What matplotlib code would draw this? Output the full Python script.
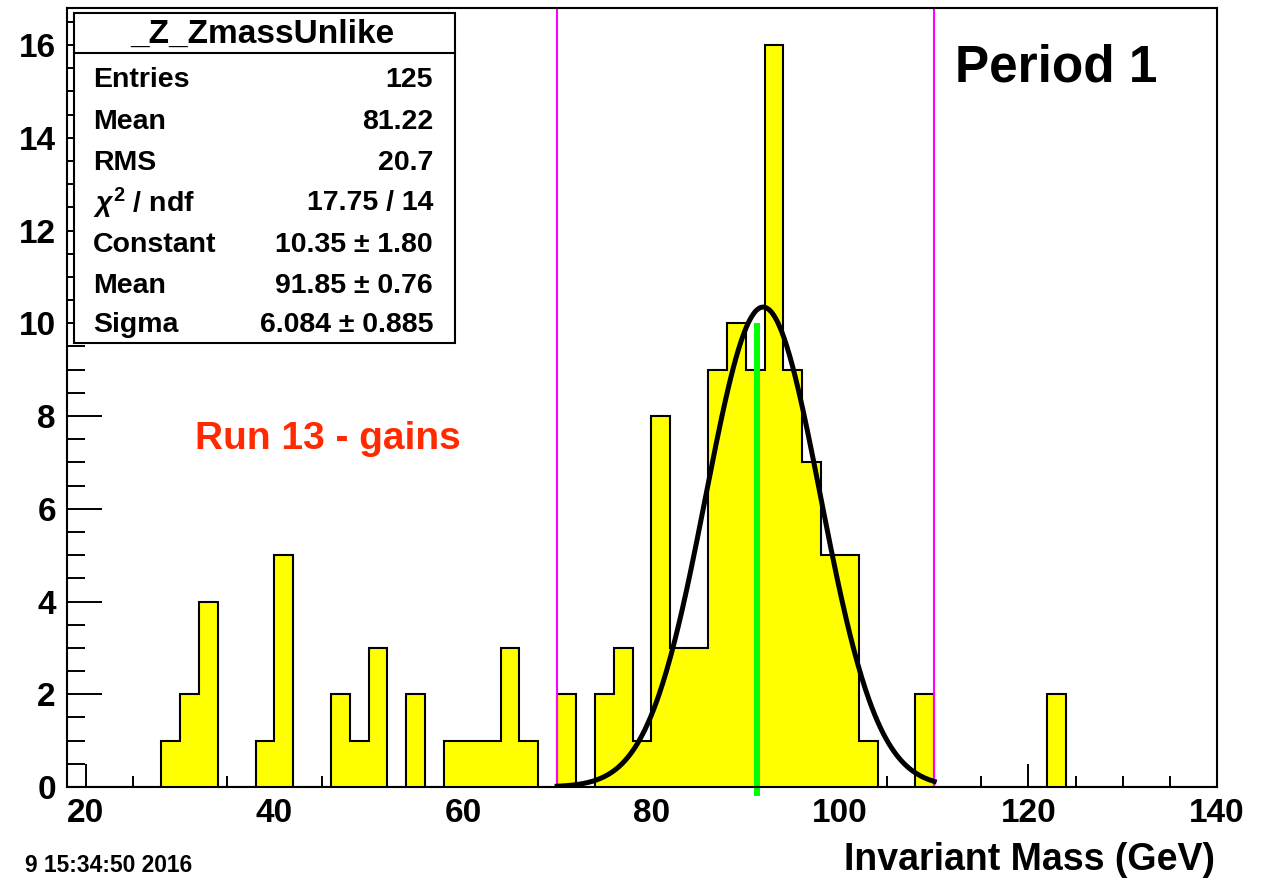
import numpy as np
import matplotlib
matplotlib.use("Agg")
import matplotlib.pyplot as plt
from matplotlib.ticker import MultipleLocator
from matplotlib.patches import Rectangle
from matplotlib.lines import Line2D

plt.rcParams['font.family'] = ['Liberation Sans', 'DejaVu Sans']
plt.rcParams['font.weight'] = 'bold'
plt.rcParams['mathtext.fontset'] = 'custom'
plt.rcParams['mathtext.rm'] = 'Liberation Sans:bold'
plt.rcParams['mathtext.it'] = 'Liberation Sans:italic:bold'
plt.rcParams['mathtext.bf'] = 'Liberation Sans:bold'

# histogram: 2 GeV bins from 18 to 140
bin_edges = np.arange(18, 142, 2)
counts = [
    0, 0, 0, 0, 0, 1, 2, 4, 0, 0,      # 18 .. 38
    1, 5, 0, 0, 2, 1, 3, 0, 2, 0,      # 38 .. 58
    1, 1, 1, 3, 1, 0, 2, 0, 2, 3,      # 58 .. 78
    1, 8, 3, 3, 9, 10, 9, 16, 9, 7,    # 78 .. 98
    5, 5, 1, 0, 0, 2, 0, 0, 0, 0,      # 98 .. 118
    0, 0, 2, 0, 0, 0, 0, 0, 0, 0,      # 118 .. 138
    0,                                  # 138 .. 140
]

# gaussian fit result (from the stats box)
fit_const, fit_mean, fit_sigma = 10.35, 91.85, 6.084
fit_range = (70, 110)
window_lines = [70, 110]
z_mass, z_line_top = 91.19, 10

stats_rows = [
    ("Entries", "125"),
    ("Mean", "81.22"),
    ("RMS", "20.7"),
    (r"$\chi^{2}$ / ndf", "17.75 / 14"),
    ("Constant", "10.35 ± 1.80"),
    ("Mean", "91.85 ± 0.76"),
    ("Sigma", "6.084 ± 0.885"),
]
row_y_px = [80, 122, 163, 203, 245, 286, 325]

W, H = 1274, 882
fig = plt.figure(figsize=(W / 100, H / 100), dpi=100)


def fx(px):
    return px / W


def fy(py):
    return 1 - py / H


ax = fig.add_axes([fx(67), fy(787), fx(1217) - fx(67), fy(8) - fy(787)])

ax.stairs(counts, bin_edges, fill=True, facecolor="#ffff00", edgecolor="none", zorder=2)
ax.stairs(counts, bin_edges, fill=False, edgecolor="black", linewidth=1.5, zorder=3)

xs = np.linspace(fit_range[0], fit_range[1], 400)
ys = fit_const * np.exp(-0.5 * ((xs - fit_mean) / fit_sigma) ** 2)
ax.plot(xs, ys, color="black", linewidth=3.6, zorder=5)

for xv in window_lines:
    ax.axvline(xv, color="#ff00ff", linewidth=1.5, zorder=4)

ax.plot([z_mass, z_mass], [-0.2, z_line_top], color="#00ff00", linewidth=4.3,
        zorder=4, clip_on=False, solid_capstyle="butt")

ax.set_xlim(18, 140)
ax.set_ylim(0, 16.8)
ax.xaxis.set_major_locator(MultipleLocator(20))
ax.xaxis.set_minor_locator(MultipleLocator(5))
ax.yaxis.set_major_locator(MultipleLocator(2))
ax.yaxis.set_minor_locator(MultipleLocator(0.5))
ax.tick_params(axis="x", which="major", direction="in", length=16.5, width=1.4,
               labelsize=24, pad=8)
ax.tick_params(axis="x", which="minor", direction="in", length=8, width=1.4)
ax.tick_params(axis="y", which="major", direction="in", length=25, width=1.4,
               labelsize=24, pad=8)
ax.tick_params(axis="y", which="minor", direction="in", length=13, width=1.4)
for lab in ax.get_xticklabels() + ax.get_yticklabels():
    lab.set_fontweight("bold")
for sp in ax.spines.values():
    sp.set_linewidth(1.5)
    sp.set_zorder(6)

# texts
fig.text(fx(955), fy(68), "Period 1", fontsize=37, fontweight="bold",
         ha="left", va="center")
fig.text(fx(195), fy(439), "Run 13 - gains", fontsize=28, fontweight="bold",
         color="#ff2a00", ha="left", va="center")
fig.text(fx(1215), fy(860), "Invariant Mass (GeV)", fontsize=27, fontweight="bold",
         ha="right", va="center")
fig.text(fx(25), fy(866), "9 15:34:50 2016", fontsize=16.4, fontweight="bold",
         ha="left", va="center")

# stats box
box = Rectangle((fx(74), fy(343)), fx(455) - fx(74), fy(13) - fy(343),
                transform=fig.transFigure, facecolor="white", edgecolor="black",
                linewidth=1.5, zorder=10)
fig.add_artist(box)
fig.add_artist(Line2D([fx(74), fx(455)], [fy(53), fy(53)], transform=fig.transFigure,
                      color="black", linewidth=1.5, zorder=11))
fig.text(fx(262), fy(34), "_Z_ZmassUnlike", fontsize=24, fontweight="bold",
         ha="center", va="center", zorder=12)
for (name, val), py in zip(stats_rows, row_y_px):
    fig.text(fx(93), fy(py), name, fontsize=20.5, fontweight="bold",
             ha="left", va="center", zorder=12)
    fig.text(fx(433), fy(py), val, fontsize=20.5, fontweight="bold",
             ha="right", va="center", zorder=12)

fig.savefig("out.png", dpi=100)
